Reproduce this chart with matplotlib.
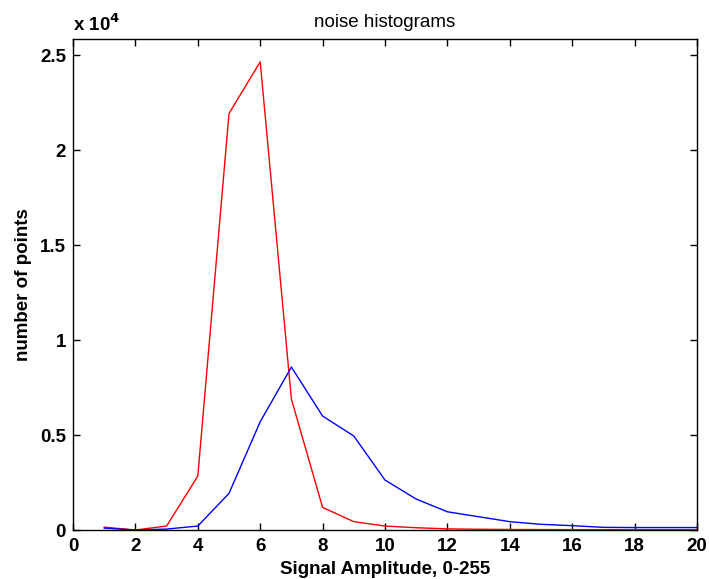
import matplotlib
matplotlib.use("Agg")
import matplotlib.pyplot as plt
from matplotlib.ticker import FuncFormatter

plt.rcParams['font.family'] = ['Liberation Sans', 'DejaVu Sans']

# signal amplitude bins
amp = list(range(1, 21))

# red series (counts)
red_counts = [150, 0, 210, 2840, 21930, 24650, 6890, 1190, 440, 210,
              120, 60, 40, 30, 25, 20, 20, 20, 20, 20]
# blue series (counts)
blue_counts = [100, 0, 50, 210, 1930, 5700, 8580, 6000, 4950, 2630,
               1630, 960, 700, 440, 300, 230, 140, 130, 130, 130]

xticks = [0, 2, 4, 6, 8, 10, 12, 14, 16, 18, 20]
yticks = [0, 5000, 10000, 15000, 20000, 25000]

fig = plt.figure(figsize=(7.09, 5.79), dpi=100)
ax = fig.add_axes([0.103, 0.0846, 0.880, 0.848])

ax.plot(amp, red_counts, color='red', lw=1)
ax.plot(amp, blue_counts, color='blue', lw=1)

ax.set_xlim(0, 20)
ax.set_ylim(0, 25850)
ax.set_xticks(xticks)
ax.set_yticks(yticks)
ax.yaxis.set_major_formatter(FuncFormatter(lambda v, p: '%g' % (v / 1e4)))

ax.tick_params(direction='in', top=True, right=True, length=5, width=1,
               labelsize=13.5, pad=5)
ax.tick_params(axis='x', pad=6)
for lab in ax.get_xticklabels() + ax.get_yticklabels():
    lab.set_fontweight('bold')
for s in ax.spines.values():
    s.set_linewidth(1)

ax.set_title('noise histograms', fontsize=13.5, pad=9)
ax.set_xlabel('Signal Amplitude, 0-255', fontsize=13.5, fontweight='bold', labelpad=4)
ax.set_ylabel('number of points', fontsize=13.5, fontweight='bold', labelpad=6)
fig.text(0.103, 0.946, r'x 10$^{\mathbf{4}}$', fontsize=13.5, fontweight='bold',
         va='baseline')

fig.savefig('out.png', dpi=100)
